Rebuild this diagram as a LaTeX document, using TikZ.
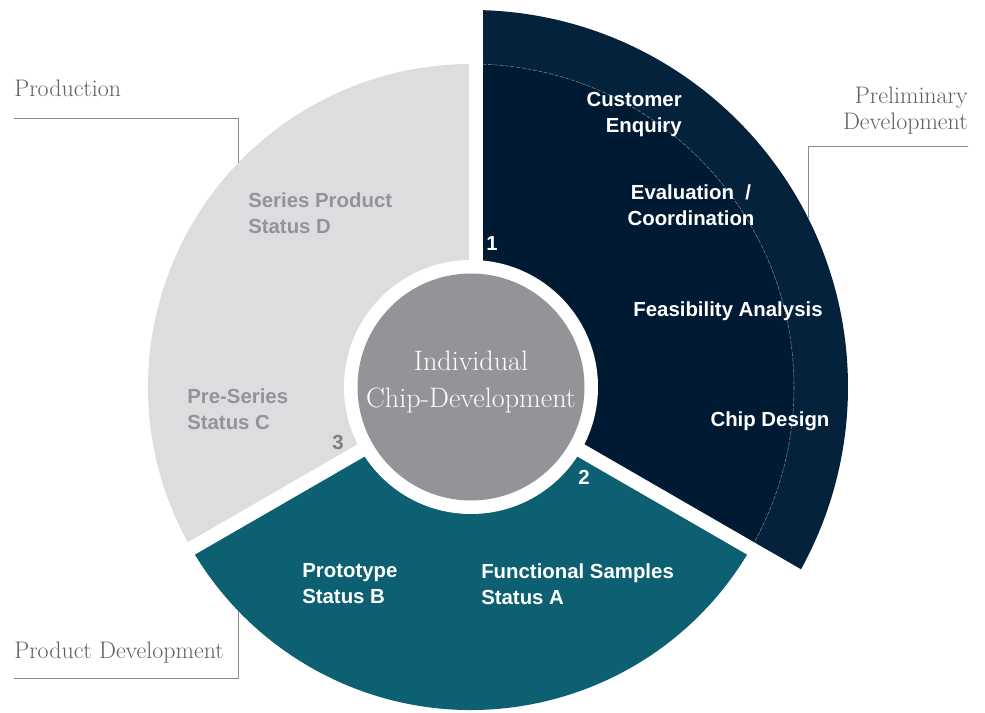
\documentclass[tikz,border=0pt]{standalone}
\usepackage{fontspec}
\setsansfont{Liberation Sans}
\definecolor{navyout}{HTML}{05223D}
\definecolor{navyin}{HTML}{001A33}
\definecolor{tealseg}{HTML}{0D6072}
\definecolor{grayseg}{HTML}{DCDDDF}
\definecolor{hubgray}{HTML}{929497}
\definecolor{labelgray}{HTML}{5F6062}
\definecolor{leadgray}{HTML}{8A8B8D}
\tikzset{
  seglabel/.style={font=\sffamily\bfseries\fontsize{14.5}{18.5}\selectfont, text=white, align=left, inner sep=0pt},
  graylabel/.style={seglabel, text=hubgray},
  phase/.style={font=\fontsize{17}{18.5}\selectfont, text=labelgray, inner sep=0pt},
  leader/.style={draw=leadgray, line width=0.6pt},
  gap/.style={draw=white, line width=10},
}
\begin{document}
\begin{tikzpicture}[x=0.25mm,y=0.25mm]
\useasboundingbox (-471,-326) rectangle (514,387);

% ring segments
\fill[navyout] (0,0) -- (90:377) arc (90:-30:377) -- cycle;
\fill[navyin] (0,0) -- (90:323) arc (90:-30:323) -- cycle;
\draw[white!45!navyin, line width=0.4pt, dashed, dash pattern=on 3pt off 1pt] (90:323) arc (90:-30:323);
\fill[tealseg] (0,0) -- (-30:323) arc (-30:-150:323) -- cycle;
\fill[grayseg] (0,0) -- (210:323) arc (210:90:323) -- cycle;
\draw[gap] (5,0) -- (5,400);
\draw[gap] (0,0) -- (-30:400);
\draw[gap] (0,0) -- (-150:400);

% hub
\fill[white] (0,0) circle (127);
\fill[hubgray] (0,0) circle (113.5);
\node[font=\fontsize{20}{26}\selectfont, text=white, align=center] (hub) at (0,5) {Individual\\Chip-Development};

% segment texts
\node[seglabel, align=right, anchor=east] (enquiry) at (211,272) {Customer\\Enquiry};
\node[seglabel, align=center] (evaluation) at (220,182) {Evaluation~~/\\Coordination};
\node[seglabel] (feasibility) at (257,76) {Feasibility Analysis};
\node[seglabel] (chipdesign) at (299,-34) {Chip Design};
\node[seglabel, anchor=west] (samples) at (10,-197) {Functional Samples\\Status A};
\node[seglabel, anchor=west] (prototype) at (-169,-197) {Prototype\\Status B};
\node[graylabel, anchor=west] (preseries) at (-284,-22) {Pre-Series\\Status C};
\node[graylabel, anchor=west] (series) at (-223,174) {Series Product\\Status D};

\node[seglabel] (one) at (21,144) {1};
\node[seglabel] (two) at (113,-90) {2};
\node[graylabel, text=hubgray!85!black] (three) at (-133,-56) {3};

% phase labels
\node[phase, anchor=west] (production) at (-457,299) {Production};
\node[phase, align=right, anchor=east] (preliminary) at (497,276) {Preliminary\\Development};
\node[phase, anchor=west] (productdev) at (-457,-266) {Product Development};

\coordinate (prodA) at (-457,269);
\coordinate (prodB) at (-233,269);
\coordinate (prodC) at (-233,224);
\draw[leader] (prodA) -- (prodB) -- (prodC);

\coordinate (prelA) at (497,241);
\coordinate (prelB) at (337,241);
\coordinate (prelC) at (337,169);
\draw[leader] (prelA) -- (prelB) -- (prelC);

\coordinate (devA) at (-457,-291);
\coordinate (devB) at (-233,-291);
\coordinate (devC) at (-233,-224);
\draw[leader] (devA) -- (devB) -- (devC);
\end{tikzpicture}
\end{document}
